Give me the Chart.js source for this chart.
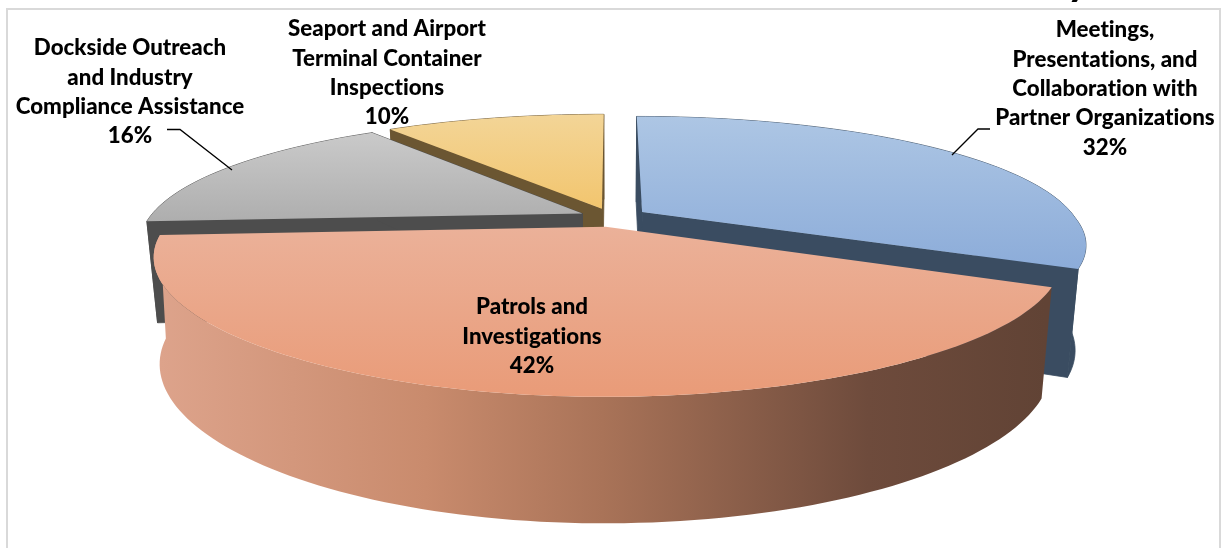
<!DOCTYPE html>
<html>
<head>
<meta charset="utf-8">
<title>Activity share</title>
<script src="https://cdn.jsdelivr.net/npm/chart.js@4"></script>
<style>
  html, body { margin: 0; padding: 0; background: #fff; overflow: hidden; }
  canvas { display: block; }
</style>
</head>
<body>
<canvas id="pie" width="1223" height="548"></canvas>
<script>
// data, clockwise from 12 o'clock
const categories = [
  'Meetings, Presentations, and Collaboration with Partner Organizations',
  'Patrols and Investigations',
  'Dockside Outreach and Industry Compliance Assistance',
  'Seaport and Airport Terminal Container Inspections'
];
const percents = [32, 42, 16, 10];

// label text, broken the way the picture breaks it
const labelLines = [
  ['Meetings,', 'Presentations, and', 'Collaboration with', 'Partner Organizations'],
  ['Patrols and', 'Investigations'],
  ['Dockside Outreach', 'and Industry', 'Compliance Assistance'],
  ['Seaport and Airport', 'Terminal Container', 'Inspections']
];
const labelX = [1105, 532, 130, 387];
const labelY = [30, 307, 48, 29];
const lineGap = 29.4;

// colours per slice
const faceTop = ['#adc6e4', '#ebb199', '#cacaca', '#f3d597'];
const faceBottom = ['#8cacd9', '#e99b78', '#aeaeae', '#f2c56e'];
const wallColor = ['#3a4c61', '#6b4a3b', '#4d4d4d', '#6b5632'];
const drawOrder = [3, 0, 2, 1];
const explode = [36, 33, 33, 33];

// leader lines
const leaders = [
  [[952, 155], [978, 129], [990, 129]],
  [[167, 129.5], [180, 129.5], [232, 170]]
];

// view settings for the tilted pie
const tiltY = 122;      // vertical size of the radius
const perspX = 0.22;    // how much nearer points grow
const perspY = 0.25;
const nearShear = 0.033;
const depth = 101;
const depthPow = 0.72;
const floorShrink = 0.977;
const floorShrinkNearLeft = 0.987;

function project(arc, px, py, low) {
  const R = arc.outerRadius;
  const dx = px - arc.x, dy = py - arc.y;
  const sx = 1 / (1 - perspX * dy / R);
  const sy = 1 / (1 - perspY * dy / R);
  let x = arc.x + dx * sx + Math.max(dy, 0) * nearShear * Math.max(dx, 0) / R;
  let y = arc.y + dy * (tiltY / R) * sy;
  if (low) {
    const shrink = (dy > 30 && dx < 0) ? floorShrinkNearLeft : floorShrink;
    x = arc.x + (x - arc.x) * shrink;
    y += depth * Math.pow(sy, depthPow);
  }
  return [x, y];
}

function slicePoints(arc, low) {
  const mid = (arc.startAngle + arc.endAngle) / 2;
  const off = arc.options.offset;
  const ox = arc.x + Math.cos(mid) * off;
  const oy = arc.y + Math.sin(mid) * off;
  const pts = [];
  const steps = Math.ceil((arc.endAngle - arc.startAngle) * 40);
  for (let i = 0; i <= steps; i++) {
    const a = arc.startAngle + (arc.endAngle - arc.startAngle) * i / steps;
    pts.push(project(arc, ox + Math.cos(a) * arc.outerRadius, oy + Math.sin(a) * arc.outerRadius, low));
  }
  return { apex: project(arc, ox, oy, low), rim: pts };
}

function fillPoly(ctx, pts, style, seal) {
  ctx.beginPath();
  pts.forEach((p, i) => i ? ctx.lineTo(p[0], p[1]) : ctx.moveTo(p[0], p[1]));
  ctx.closePath();
  ctx.fillStyle = style;
  ctx.fill();
  if (seal) {
    // hides the hairline where two wall pieces meet
    ctx.strokeStyle = style;
    ctx.lineWidth = 0.8;
    ctx.stroke();
  }
}

function drawSlice(ctx, arc, i) {
  const top = slicePoints(arc, false);
  const low = slicePoints(arc, true);
  const n = top.rim.length - 1;

  // outer wall, the big slice gets the shaded band
  let wall = wallColor[i];
  if (i === 1) {
    wall = ctx.createLinearGradient(160, 0, 1045, 0);
    wall.addColorStop(0, '#dda38b');
    wall.addColorStop(0.3, '#c98b6d');
    wall.addColorStop(0.5, '#a97358');
    wall.addColorStop(0.8, '#6e4b3c');
    wall.addColorStop(1, '#614335');
  }
  fillPoly(ctx, top.rim.concat(low.rim.slice().reverse()), wall, i !== 1);

  // cut walls
  if (i !== 1) {
    fillPoly(ctx, [top.apex, low.apex, low.rim[0], top.rim[0]], wallColor[i], true);
    fillPoly(ctx, [top.apex, low.apex, low.rim[n], top.rim[n]], wallColor[i], true);
  }

  // top face
  const face = top.rim.concat([top.apex]);
  const ys = face.map(p => p[1]);
  const g = ctx.createLinearGradient(0, Math.min(...ys), 0, Math.max(...ys));
  g.addColorStop(0, faceTop[i]);
  g.addColorStop(1, faceBottom[i]);
  fillPoly(ctx, face, g, false);
}

const tiltedPie = {
  id: 'tiltedPie',
  beforeDatasetsDraw(chart) {
    const ctx = chart.ctx;
    const arcs = chart.getDatasetMeta(0).data;
    ctx.save();
    drawOrder.forEach(i => drawSlice(ctx, arcs[i], i));
    ctx.restore();
    return false; // the flat arcs are replaced by the tilted ones
  },
  afterDraw(chart) {
    const ctx = chart.ctx;
    ctx.save();
    ctx.fillStyle = '#000';
    ctx.textAlign = 'center';
    ctx.textBaseline = 'middle';
    ctx.letterSpacing = '0.01px'; // keeps Lato from joining ti into a ligature
    ctx.font = '900 22.3px Lato, Carlito, sans-serif';
    percents.forEach((p, i) => {
      const lines = labelLines[i].concat(p + '%');
      lines.forEach((t, k) => ctx.fillText(t, labelX[i], labelY[i] + k * lineGap));
    });

    ctx.strokeStyle = '#000';
    ctx.lineWidth = 1.3;
    leaders.forEach(l => {
      ctx.beginPath();
      l.forEach((p, k) => k ? ctx.lineTo(p[0], p[1]) : ctx.moveTo(p[0], p[1]));
      ctx.stroke();
    });

    // tail of the cut off title above the frame
    ctx.font = 'bold 44px Lato, sans-serif';
    ctx.textBaseline = 'alphabetic';
    ctx.fillText('y', 1078, -5);
    ctx.restore();
  },
  beforeDraw(chart) {
    const ctx = chart.ctx;
    ctx.save();
    ctx.fillStyle = '#fff';
    ctx.fillRect(0, 0, chart.width, chart.height);
    ctx.strokeStyle = '#d9d9d9';
    ctx.lineWidth = 2;
    ctx.strokeRect(7, 9, 1213, 560);
    ctx.restore();
  }
};

new Chart(document.getElementById('pie'), {
  type: 'pie',
  data: {
    labels: categories,
    datasets: [{ data: percents, offset: explode, borderWidth: 0 }]
  },
  options: {
    responsive: false,
    animation: false,
    radius: 433,
    layout: { padding: { bottom: 113, left: 1 } },
    plugins: { legend: { display: false }, tooltip: { enabled: false } }
  },
  plugins: [tiltedPie]
});
</script>
</body>
</html>
